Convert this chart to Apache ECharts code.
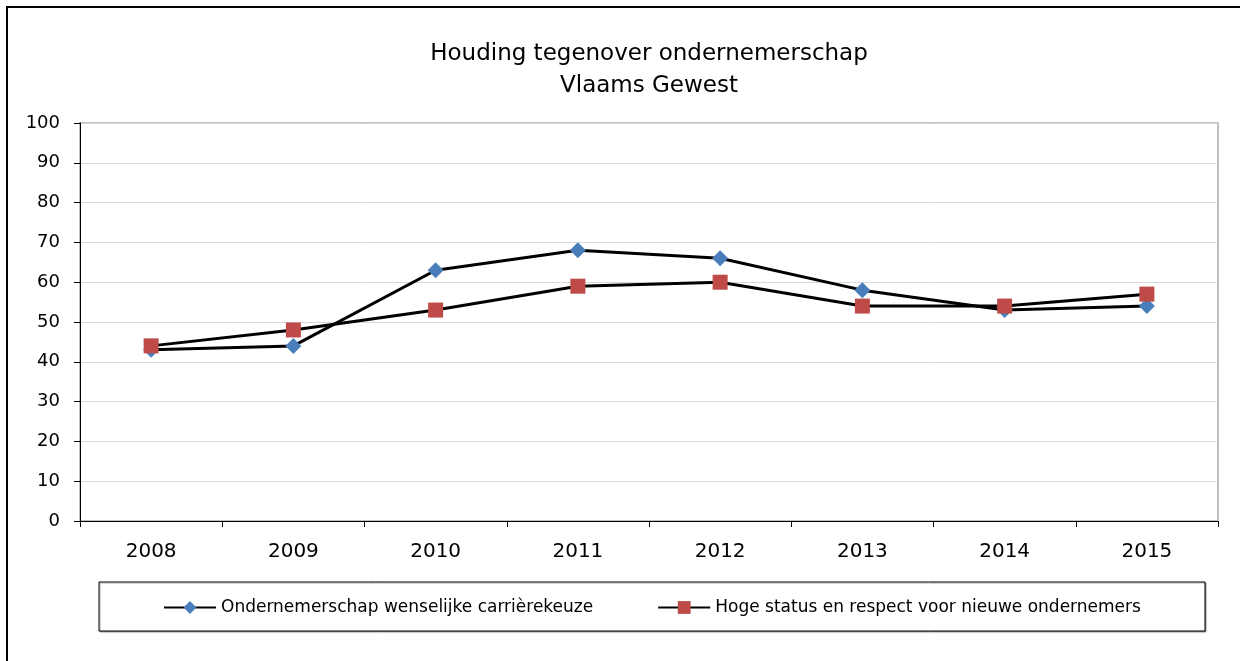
<!DOCTYPE html>
<html>
<head>
<meta charset="utf-8">
<script src="https://cdn.jsdelivr.net/npm/echarts@6/dist/echarts.min.js"></script>
<style>
  html, body { margin: 0; padding: 0; background: #fff; }
  #chart { width: 1240px; height: 661px; }
</style>
</head>
<body>
<div id="chart"></div>
<script>
var years = ['2008', '2009', '2010', '2011', '2012', '2013', '2014', '2015'];
var carriereKeuze = [43, 44, 63, 68, 66, 58, 53, 54];
var hogeStatus = [44, 48, 53, 59, 60, 54, 54, 57];
var yTicks = [0, 10, 20, 30, 40, 50, 60, 70, 80, 90, 100];

var font = 'DejaVu Sans';

var option = {
    animation: false,
    title: {
        text: 'Houding tegenover ondernemerschap\nVlaams Gewest',
        left: 649, // titel staat iets rechts van het midden
        textAlign: 'center',
        top: 38,
        padding: 0,
        textStyle: {
            fontFamily: font,
            fontWeight: 'normal',
            fontSize: 23,
            lineHeight: 32,
            color: '#000'
        }
    },
    graphic: [
        { // rand rond de hele grafiek
            type: 'rect',
            shape: { x: 7, y: 7, width: 1240, height: 660 },
            style: { fill: 'none', stroke: '#000', lineWidth: 2 }
        },
        { // kader van de legende
            type: 'rect',
            shape: { x: 99, y: 582, width: 1106, height: 49 },
            style: { fill: '#fff', stroke: '#000', lineWidth: 1, shadowColor: 'rgba(0,0,0,0.35)', shadowOffsetX: 1, shadowOffsetY: 1, shadowBlur: 1 },
            z: 0
        }
    ],
    legend: {
        top: 594,
        left: 158,
        itemWidth: 52,
        itemHeight: 16,
        itemGap: 64,
        z: 10,
        textStyle: { fontFamily: font, fontSize: 17, color: '#000' },
        data: ['Ondernemerschap wenselijke carrièrekeuze', 'Hoge status en respect voor nieuwe ondernemers']
    },
    grid: {
        left: 80,
        right: 22,
        top: 123,
        bottom: 140,
        show: true,
        borderColor: '#bfbfbf',
        borderWidth: 2
    },
    xAxis: {
        type: 'category',
        data: years,
        boundaryGap: true,
        axisLine: { lineStyle: { color: '#000', width: 1 } },
        axisTick: { show: true, length: 6, lineStyle: { color: '#000' } },
        axisLabel: { fontFamily: font, fontSize: 20, color: '#000', margin: 21 }
    },
    yAxis: {
        type: 'value',
        min: yTicks[0],
        max: yTicks[yTicks.length - 1],
        interval: 10,
        axisLine: { show: true, lineStyle: { color: '#000', width: 1 } },
        axisTick: { show: true, length: 6, lineStyle: { color: '#000' } },
        axisLabel: { fontFamily: font, fontSize: 18, color: '#000', margin: 20 },
        splitLine: { lineStyle: { color: '#d9d9d9', width: 1 } }
    },
    series: [
        {
            name: 'Ondernemerschap wenselijke carrièrekeuze',
            type: 'line',
            data: carriereKeuze,
            symbol: 'diamond',
            symbolSize: 16,
            lineStyle: { color: '#000', width: 3 },
            itemStyle: { color: '#4a7ebb' }
        },
        {
            name: 'Hoge status en respect voor nieuwe ondernemers',
            type: 'line',
            data: hogeStatus,
            symbol: 'rect',
            symbolSize: 15,
            lineStyle: { color: '#000', width: 3 },
            itemStyle: { color: '#be4b48' }
        }
    ]
};

var myChart = echarts.init(document.getElementById('chart'));
myChart.setOption(option);
</script>
</body>
</html>
